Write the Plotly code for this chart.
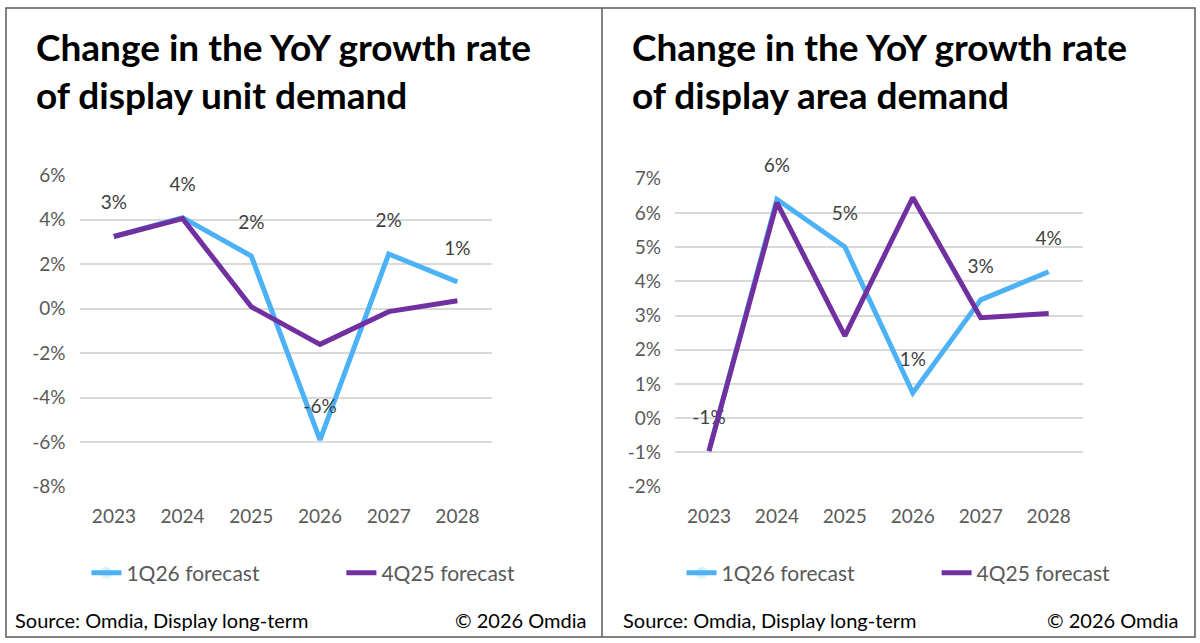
import plotly.graph_objects as go

# categorias e valores (% a/a)
anos = ["2023", "2024", "2025", "2026", "2027", "2028"]

unid_1q26 = [3.25, 4.1, 2.37, -5.9, 2.46, 1.21]
unid_4q25 = [3.25, 4.05, 0.09, -1.6, -0.13, 0.36]

area_1q26 = [-0.96, 6.4, 5.01, 0.74, 3.46, 4.28]
area_4q25 = [-0.96, 6.3, 2.41, 6.45, 2.94, 3.06]

ticks_unid = [6, 4, 2, 0, -2, -4, -6, -8]
ticks_area = [7, 6, 5, 4, 3, 2, 1, 0, -1, -2]

AZUL = "#4db2f5"
ROXO = "#7030a0"
FONTE = "Lato"
CINZA = "#595959"
W, H = 1200, 643

fig = go.Figure()

def add_series(y, nome, cor, eixo, legenda, rotulo):
    fig.add_trace(go.Scatter(
        x=anos, y=y, name=nome,
        mode="lines+markers+text" if rotulo else "lines",
        line=dict(color=cor, width=5),
        marker=dict(size=34, opacity=0, color=cor),
        texttemplate="%{y:.0f}%" if rotulo else None,
        textposition="top center",
        textfont=dict(size=19, color="#404040", family=FONTE),
        xaxis="x" + eixo, yaxis="y" + eixo, legend=legenda,
        cliponaxis=False,
    ))

add_series(unid_1q26, "1Q26 forecast", AZUL, "", "legend", True)
add_series(unid_4q25, "4Q25 forecast", ROXO, "", "legend", False)
add_series(area_1q26, "1Q26 forecast", AZUL, "2", "legend2", True)
add_series(area_4q25, "4Q25 forecast", ROXO, "2", "legend2", False)

eixo_x = dict(type="category", range=[-0.5, 5.5], showgrid=False, zeroline=False,
              showline=False, ticks="", tickfont=dict(size=19, color=CINZA, family=FONTE),
              ticklabelstandoff=16)
eixo_y = dict(showgrid=True, gridcolor="#d9d9d9", gridwidth=2, zeroline=False,
              showline=False, ticks="", tickfont=dict(size=19, color=CINZA, family=FONTE),
              ticklabelstandoff=13)

def py(px):  # pixel a partir do topo -> fração do papel
    return 1 - px / H

fig.update_layout(
    width=W, height=H,
    margin=dict(l=0, r=0, t=0, b=0, autoexpand=False),
    paper_bgcolor="white", plot_bgcolor="white",
    font=dict(family=FONTE, color=CINZA),
    xaxis=dict(eixo_x, domain=[0.0663, 0.4098]),
    yaxis=dict(eixo_y, domain=[py(486.7), py(175.3)], range=[-8, 6],
               tickvals=ticks_unid, ticktext=[f"{v}%" for v in ticks_unid]),
    xaxis2=dict(eixo_x, domain=[0.5625, 0.9022], anchor="y2"),
    yaxis2=dict(eixo_y, domain=[py(486.7), py(178.7)], range=[-2, 7], anchor="x2",
                tickvals=ticks_area, ticktext=[f"{v}%" for v in ticks_area]),
    legend=dict(orientation="h", x=0.072, y=py(573), xanchor="left", yanchor="middle",
                font=dict(size=21, color=CINZA), entrywidth=210, itemsizing="constant",
                bgcolor="rgba(0,0,0,0)"),
    legend2=dict(orientation="h", x=0.568, y=py(573), xanchor="left", yanchor="middle",
                 font=dict(size=21, color=CINZA), entrywidth=210, itemsizing="constant",
                 bgcolor="rgba(0,0,0,0)"),
    showlegend=True,
)

# molduras
fig.add_shape(type="rect", xref="paper", yref="paper", x0=6 / W, x1=1195 / W, y0=py(637), y1=py(8),
              line=dict(color="#595959", width=1.5))
fig.add_shape(type="line", xref="paper", yref="paper", x0=602 / W, x1=602 / W, y0=py(637), y1=py(8),
              line=dict(color="#595959", width=1.5))

titulos = [("Change in the YoY growth rate<br>of display unit demand", 34),
           ("Change in the YoY growth rate<br>of display area demand", 630)]
for txt, x in titulos:
    fig.add_annotation(text="<b>" + txt + "</b>", xref="paper", yref="paper", x=x / W, y=py(71),
                       xanchor="left", yanchor="middle", align="left", showarrow=False,
                       font=dict(size=37, color="black", family=FONTE))

for x0, x1 in [(13, 588), (621, 1180)]:
    fig.add_annotation(text="Source: Omdia, Display long-term", xref="paper", yref="paper",
                       x=x0 / W, y=py(620), xanchor="left", yanchor="middle", showarrow=False,
                       font=dict(size=20, color="black", family=FONTE))
    fig.add_annotation(text="© 2026 Omdia", xref="paper", yref="paper",
                       x=x1 / W, y=py(620), xanchor="right", yanchor="middle", showarrow=False,
                       font=dict(size=20, color="black", family=FONTE))

fig.write_html("out.html", config={"displayModeBar": False},
               post_script="document.body.style.margin='0';")
